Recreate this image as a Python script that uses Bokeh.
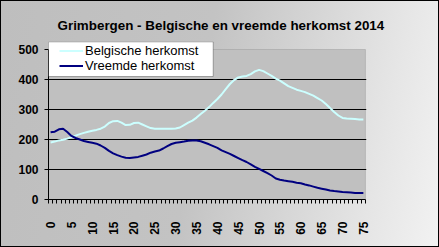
import math
from bokeh.plotting import figure
from bokeh.models import (Range1d, FixedTicker, Legend, LegendItem,
                          BoxAnnotation)
from bokeh.embed import file_html
from bokeh.resources import INLINE

# ---- data -------------------------------------------------------------
ages = list(range(76))
belgisch = [190, 193, 197, 199, 203, 208, 213, 218, 222, 226,
            229, 232, 236, 243, 255, 261, 262, 256, 248, 249,
            255, 256, 250, 244, 238, 236, 236, 236, 236, 236,
            237, 240, 248, 256, 263, 273, 285, 296, 308, 322,
            335, 350, 368, 385, 398, 407, 410, 412, 418, 427,
            432, 428, 420, 412, 403, 396, 387, 378, 372, 366,
            362, 358, 352, 346, 338, 330, 318, 305, 292, 280,
            272, 270, 269, 268, 267, 267]
vreemd = [224, 226, 234, 236, 225, 212, 205, 200, 195, 192,
          189, 186, 180, 172, 162, 154, 148, 143, 139, 138,
          140, 142, 146, 150, 156, 160, 163, 170, 178, 185,
          189, 191, 193, 196, 197, 197, 194, 189, 184, 178,
          172, 164, 158, 152, 145, 138, 131, 125, 117, 109,
          102, 95, 88, 80, 70, 66, 63, 61, 59, 56,
          54, 50, 47, 43, 39, 36, 33, 30, 28, 27,
          25, 24, 23, 22, 22, 22]
x_label_ticks = [0, 5, 10, 15, 20, 25, 30, 35, 40, 45, 50, 55, 60, 65, 70, 75]
y_ticks = [0, 100, 200, 300, 400, 500]
y_max = 500
title_text = "Grimbergen - Belgische en vreemde herkomst 2014"
series_names = ["Belgische herkomst", "Vreemde herkomst"]

FONT = "Liberation Sans"

x0 = ages[0] - 0.5
x1 = ages[-1] + 0.5

p = figure(width=439, height=247, output_backend="svg", toolbar_location=None,
           x_range=Range1d(x0, x1 + 0.25), y_range=Range1d(0, y_max + 26.67),
           min_border_left=48, min_border_right=73, min_border_top=41,
           min_border_bottom=48, title=title_text)
p.border_fill_alpha = 0
p.background_fill_alpha = 0
p.outline_line_color = None
p.styles = {
    "background-image": "linear-gradient(100deg, #bebebe 0%, #c3c3c3 45%, #e6e6e6 85%, #f2f2f2 100%)",
    "outline": "1px solid black",
    "outline-offset": "-1px",
}

p.title.text_font = FONT
p.title.text_font_style = "bold"
p.title.text_font_size = "13.4px"
p.title.text_color = "black"
p.title.align = "left"
p.title.offset = 9
p.title.standoff = 18

# plot area (grey, grey border)
area = BoxAnnotation(left=x0, right=x1, bottom=0, top=y_max,
                     fill_color="#c0c0c0", fill_alpha=1,
                     line_color="#808080", line_width=1, level="image")
p.add_layout(area)

# grid
p.xgrid.visible = False
p.ygrid.ticker = FixedTicker(ticks=y_ticks[1:-1])
p.ygrid.grid_line_color = "black"
p.ygrid.grid_line_width = 1

# axes
xa = p.xaxis[0]
xa.ticker = FixedTicker(ticks=x_label_ticks,
                        minor_ticks=[a - 0.5 for a in ages] + [x1])
xa.bounds = (x0, x1)
xa.major_tick_out = 0
xa.major_tick_in = 0
xa.minor_tick_out = 4
xa.minor_tick_in = 0
xa.minor_tick_line_color = "black"
xa.axis_line_color = "black"
xa.major_label_orientation = math.pi / 2
xa.major_label_standoff = 18
xa.major_label_text_font = FONT
xa.major_label_text_font_style = "bold"
xa.major_label_text_font_size = "12px"
xa.major_label_text_color = "black"

ya = p.yaxis[0]
ya.ticker = FixedTicker(ticks=y_ticks)
ya.bounds = (0, y_max)
ya.major_tick_out = 4
ya.major_tick_in = 0
ya.minor_tick_out = 0
ya.minor_tick_in = 0
ya.axis_line_color = "black"
ya.major_label_standoff = 6
ya.major_label_text_font = FONT
ya.major_label_text_font_style = "bold"
ya.major_label_text_font_size = "12px"
ya.major_label_text_color = "black"

# lines
r1 = p.line(ages, belgisch, line_color="#ccffff", line_width=2)
r2 = p.line(ages, vreemd, line_color="#000080", line_width=2)

# legend box (white, black border)
box = BoxAnnotation(left=x0, right=38.99, top=525.5, bottom=410,
                    fill_color="white", fill_alpha=1,
                    line_color="black", line_width=1, level="annotation")
p.add_layout(box)

legend = Legend(items=[LegendItem(label=series_names[0], renderers=[r1]),
                       LegendItem(label=series_names[1], renderers=[r2])],
                location=(11, 126), orientation="vertical",
                glyph_width=24, glyph_height=15, label_height=15,
                label_standoff=2, spacing=0, padding=0, margin=0,
                background_fill_alpha=0, border_line_alpha=0,
                label_text_font=FONT, label_text_font_size="13px",
                label_text_color="black")
p.add_layout(legend, "center")

open("out.html", "w").write(file_html(p, INLINE))
